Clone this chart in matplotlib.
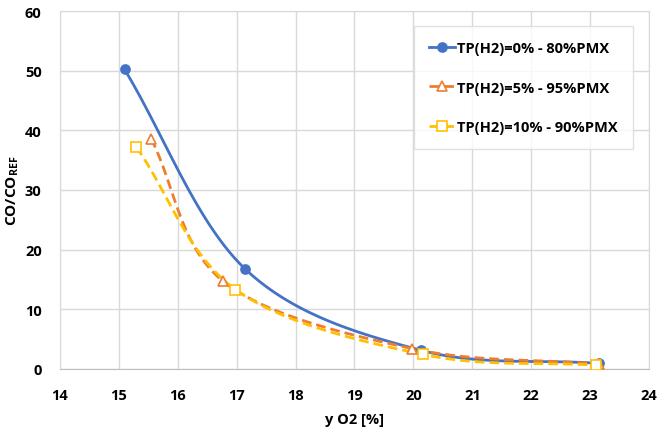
import numpy as np
import matplotlib.pyplot as plt

plt.rcParams['font.family'] = ['Open Sans', 'DejaVu Sans']
plt.rcParams['mathtext.fontset'] = 'custom'
plt.rcParams['mathtext.bf'] = 'Open Sans:bold'
plt.rcParams['mathtext.rm'] = 'Open Sans'

# data
x_h0 = [15.1, 17.15, 20.13, 23.15]
y_h0 = [50.2, 16.7, 3.1, 0.9]
x_h5 = [15.55, 16.77, 19.97, 23.15]
y_h5 = [38.6, 14.7, 3.4, 0.8]
x_h10 = [15.3, 16.98, 20.17, 23.1]
y_h10 = [37.2, 13.3, 2.4, 0.6]
labels = ['TP(H2)=0% - 80%PMX', 'TP(H2)=5% - 95%PMX', 'TP(H2)=10% - 90%PMX']


def smooth(xs, ys, n=40):
    # Catmull-Rom style smoothing like Excel's "smoothed line"
    p = np.column_stack([xs, ys]).astype(float)
    p = np.vstack([p[0] * 2 - p[1], p, p[-1] * 2 - p[-2]])
    out = []
    t = np.linspace(0, 1, n)[:, None]
    for i in range(1, len(p) - 2):
        p0, p1, p2, p3 = p[i - 1], p[i], p[i + 1], p[i + 2]
        c1 = p1 + (p2 - p0) / 6
        c2 = p2 - (p3 - p1) / 6
        seg = ((1 - t) ** 3) * p1 + 3 * ((1 - t) ** 2) * t * c1 + 3 * (1 - t) * t ** 2 * c2 + t ** 3 * p2
        out.append(seg)
    out = np.vstack(out)
    return out[:, 0], out[:, 1]


fig, ax = plt.subplots(figsize=(6.57, 4.31), dpi=100)
fig.subplots_adjust(left=0.091, right=0.988, bottom=0.142, top=0.972)

series = [
    (x_h0, y_h0, '#4472C4', '-', 'o', '#4472C4'),
    (x_h5, y_h5, '#ED7D31', '--', '^', 'white'),
    (x_h10, y_h10, '#FFC000', '--', 's', 'white'),
]
handles = []
for (xs, ys, c, ls, m, fc), lab in zip(series, labels):
    sx, sy = smooth(xs, ys)
    dash = {'dashes': (3.5, 1.8)} if ls == '--' else {}
    ax.plot(sx, sy, color=c, ls=ls, lw=2, zorder=3, **dash)
    ax.plot(xs, ys, ls='none', marker=m, ms=6.5, mfc=fc, mec=c, mew=1.2, zorder=4)
    h, = ax.plot([], [], color=c, ls=ls, lw=2, marker=m, ms=6.5, mfc=fc, mec=c, mew=1.2, **dash)
    handles.append(h)

ax.set_xlim(14, 24)
ax.set_ylim(0, 60)
ax.set_xticks(range(14, 25))
ax.set_yticks(range(0, 61, 10))
ax.grid(True, color='#D9D9D9', lw=1)
ax.set_axisbelow(True)
for s in ax.spines.values():
    s.set_color('#D9D9D9')
ax.spines['bottom'].set_color('#BFBFBF')
ax.tick_params(axis='x', length=0, labelsize=10.5, pad=14)
ax.tick_params(axis='y', length=0, labelsize=10.5, pad=13)
for lb in ax.get_xticklabels() + ax.get_yticklabels():
    lb.set_fontweight('bold')

ax.set_xlabel('y O2 [%]', fontsize=10.5, fontweight='bold')
ax.set_ylabel(r'$\mathbf{CO/CO_{REF}}$', fontsize=11)
ax.yaxis.set_label_coords(-0.079, 0.5)
ax.xaxis.set_label_coords(0.5, -0.14)
ax.yaxis.label.set_va('center')
ax.xaxis.label.set_va('center')

leg = ax.legend(handles, labels, loc='upper right', bbox_to_anchor=(0.972, 0.957),
                prop={'weight': 'bold', 'size': 10.5}, frameon=True, fancybox=False,
                edgecolor='#D9D9D9', labelspacing=1.75, handlelength=1.8, handletextpad=0.15,
                borderpad=1.0, borderaxespad=0)
leg.get_frame().set_linewidth(1)

fig.savefig('out.png', dpi=100)
